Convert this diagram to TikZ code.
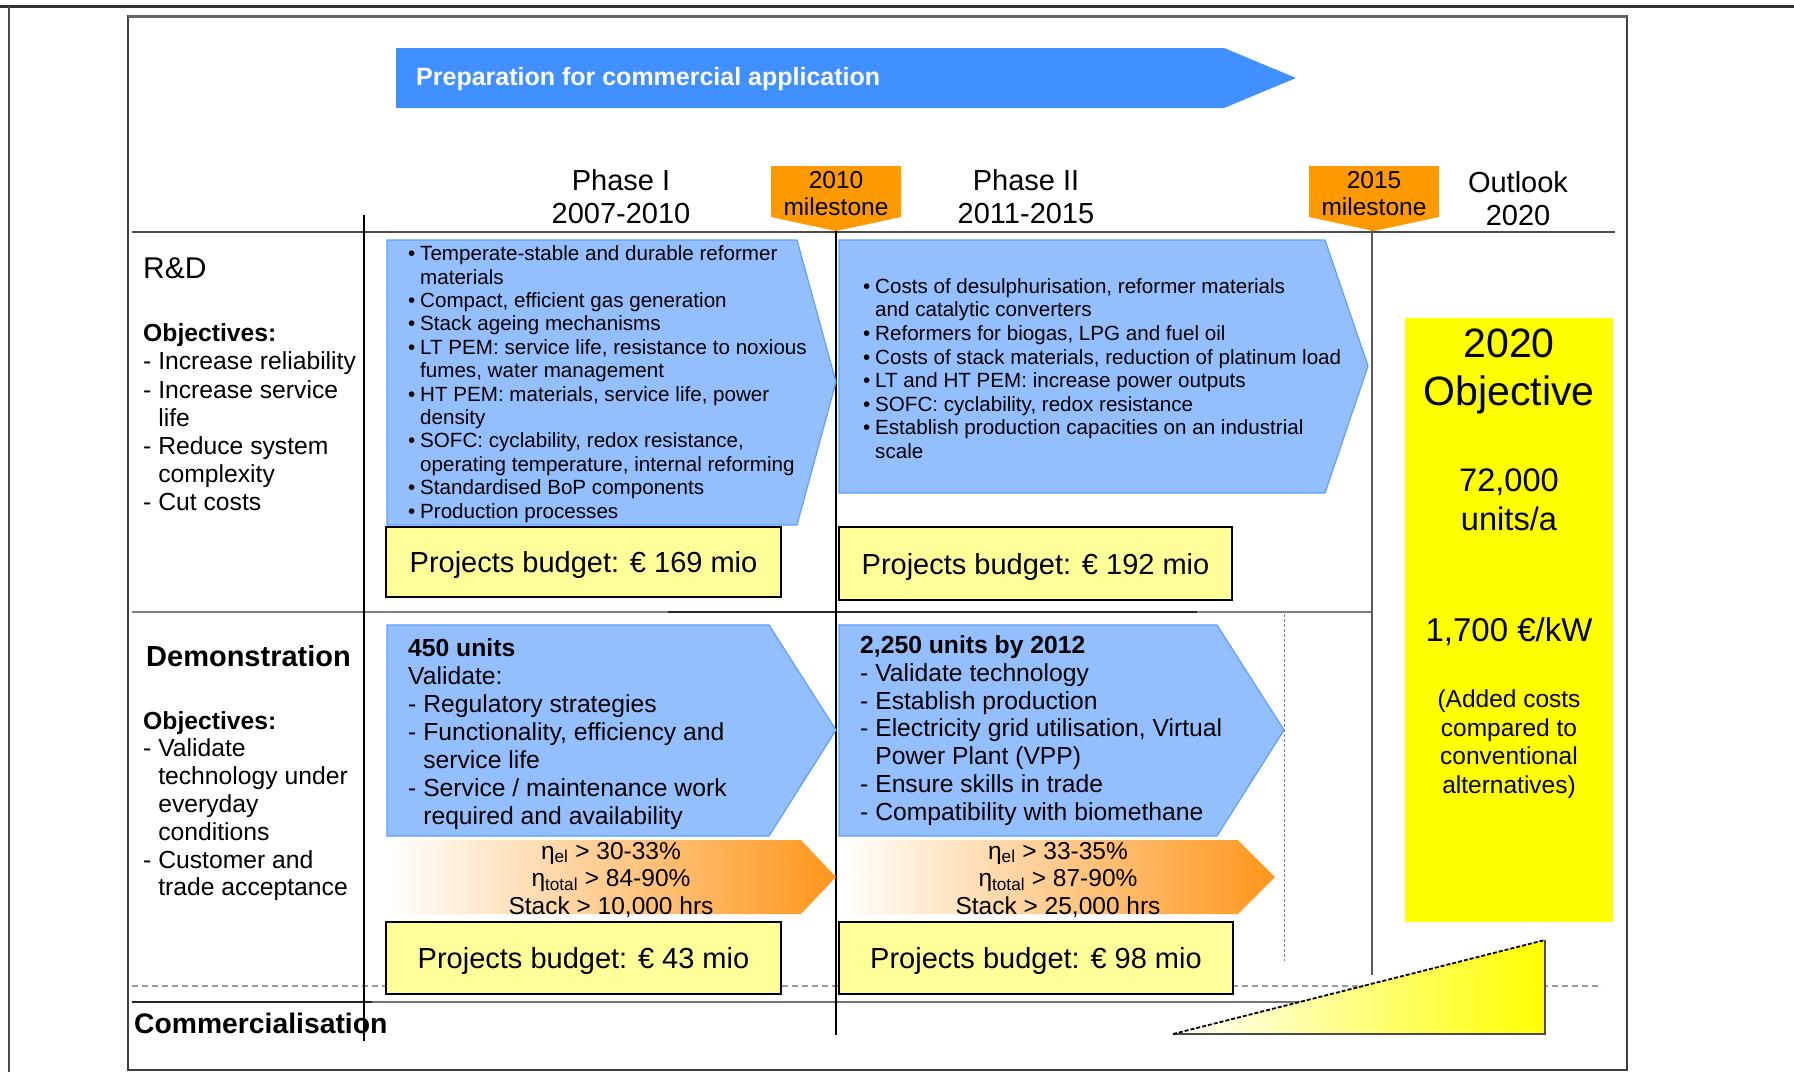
\documentclass[tikz,border=0pt]{standalone}
\usepackage{fontspec}
\setmainfont{Liberation Sans}
\definecolor{bannerblue}{HTML}{4190FF}
\definecolor{lightblue}{HTML}{94BFFF}
\definecolor{blueedge}{HTML}{5E9EFF}
\definecolor{msorange}{HTML}{FF9900}
\definecolor{gradorange}{HTML}{FF961A}
\definecolor{budgetyellow}{HTML}{FFFF99}
\definecolor{objyellow}{HTML}{FFFF00}
\newcommand\mybul{\makebox[12pt][l]{\textbullet}}
\newcommand\myind{\hspace*{12pt}}
\newcommand\mydash{\hphantom{-\ }}
\begin{document}
\begin{tikzpicture}[x=1pt,y=-1pt,
  every node/.style={inner sep=0pt},
  phasebox/.style={fill=lightblue, draw=blueedge, line width=1.2pt},
  orangebox/.style={left color=white, right color=gradorange},
  budgetbox/.style={draw=black, line width=1.8pt, fill=budgetyellow, text depth=0pt, font=\fontsize{29}{33}\selectfont},
  smalltxt/.style={anchor=west, align=left, font=\fontsize{20.6}{23.4}\selectfont},
  midtxt/.style={anchor=west, align=left, font=\fontsize{24.7}{28}\selectfont},
  headtxt/.style={align=center, font=\fontsize{29}{33}\selectfont},
  mstxt/.style={align=center, font=\fontsize{24.5}{27}\selectfont},
  efftxt/.style={align=center, font=\fontsize{24.5}{27.5}\selectfont},
  gridline/.style={line width=1.5pt}
]
\useasboundingbox (0,0) rectangle (1794,1072);
\fill[white] (0,0) rectangle (1794,1072);

% page and frame lines
\draw[line width=3pt, black!80] (0,6) -- (1794,6);
\draw[line width=2pt, black!70] (9,6) -- (9,1072);
\draw[line width=1.8pt, black!75] (128,16) rectangle (1627,1070);
\draw[line width=3pt, black!60] (128,16) -- (1627,16);
\draw[line width=2.6pt, black!70] (132,232) -- (1615,232);

% grid lines
\draw[black!40, line width=2pt, dash pattern=on 6pt off 4pt] (132,986) -- (1602,986);
\draw[black!50, line width=2.2pt] (132,612) -- (1372,612);
\draw[black!85, line width=2.2pt] (668,612) -- (1197,612);
\draw[black!55, line width=2pt] (132,1002) -- (1372,1002);
\draw[black!85, line width=2pt] (132,1002) -- (372,1002);
\draw[gridline] (364,215) -- (364,1041);
\draw[gridline] (836,229) -- (836,1035);
\draw[gridline, black!65] (1372,229) -- (1372,975);
\draw[black!50, line width=1pt, dash pattern=on 3pt off 2pt] (1284,614) -- (1284,961);

% banner
\path[fill=bannerblue] (396,48) -- (1224,48) -- (1296,78) -- (1224,108) -- (396,108) -- cycle;
\node[anchor=west, text=white, font=\fontsize{25}{28}\selectfont\bfseries] (banner) at (416,79) {Preparation for commercial application};

% milestones
\path[fill=msorange] (771,166) -- (901,166) -- (901,217) -- (836,231) -- (771,217) -- cycle;
\path[fill=msorange] (1309,166) -- (1439,166) -- (1439,217) -- (1374,231) -- (1309,217) -- cycle;
\node[mstxt] (ms1) at (836,193.5) {2010\\milestone};
\node[mstxt] (ms2) at (1374,193.5) {2015\\milestone};

% header
\node[headtxt] (ph1) at (621,196.5) {Phase I\\2007-2010};
\node[headtxt] (ph2) at (1026,196.5) {Phase II\\2011-2015};
\node[headtxt] (outl) at (1518,198.5) {Outlook\\2020};

% row labels
\node[anchor=west, font=\fontsize{30}{34}\selectfont] (rdlabel) at (143,268) {R\&D};
\node[midtxt, font=\fontsize{24.7}{28.2}\selectfont] (rdobj) at (143,417.5) {\textbf{Objectives:}\\- Increase reliability\\- Increase service\\\mydash life\\- Reduce system\\\mydash complexity\\- Cut costs};
\node[anchor=west, font=\fontsize{29}{33}\selectfont\bfseries] (demolabel) at (146,656) {Demonstration};
\node[midtxt, font=\fontsize{24.7}{27.8}\selectfont] (demoobj) at (143,806) {\textbf{Objectives:}\\- Validate\\\mydash technology under\\\mydash everyday\\\mydash conditions\\- Customer and\\\mydash trade acceptance};
\node[anchor=west, font=\fontsize{28.3}{32}\selectfont\bfseries] (comlabel) at (134,1023) {Commercialisation};

% R&D phase arrows
\path[phasebox] (387,240) -- (797,240) -- (836,382) -- (797,525) -- (387,525) -- cycle;
\path[phasebox] (839,240) -- (1325,240) -- (1368,366) -- (1325,493) -- (839,493) -- cycle;
\node[smalltxt] (rd1) at (408,384) {\mybul Temperate-stable and durable reformer\\\myind materials\\\mybul Compact, efficient gas generation\\\mybul Stack ageing mechanisms\\\mybul LT PEM: service life, resistance to noxious\\\myind fumes, water management\\\mybul HT PEM: materials, service life,  power\\\myind density\\\mybul SOFC: cyclability, redox resistance,\\\myind operating temperature, internal reforming\\\mybul Standardised BoP components\\\mybul Production processes};
\node[smalltxt, font=\fontsize{20.6}{23.57}\selectfont] (rd2) at (863,368.5) {\mybul Costs of desulphurisation, reformer materials\\\myind and catalytic converters\\\mybul Reformers for biogas, LPG and fuel oil\\\mybul Costs of stack materials, reduction of platinum load\\\mybul LT and HT PEM: increase power outputs\\\mybul SOFC: cyclability, redox resistance\\\mybul Establish production capacities on an industrial\\\myind scale};

% budgets R&D
\node[budgetbox, minimum width=395pt, minimum height=70pt] (b1) at (583.5,562) {Projects budget: € 169 mio};
\node[budgetbox, minimum width=393pt, minimum height=73pt] (b2) at (1035.5,563.5) {Projects budget: € 192 mio};

% Demonstration arrows
\path[phasebox] (387,625) -- (769,625) -- (836,730) -- (769,836) -- (387,836) -- cycle;
\path[phasebox] (839,625) -- (1217,625) -- (1284,730) -- (1217,836) -- (839,836) -- cycle;
\node[midtxt] (d1) at (408,734) {\textbf{450 units}\\Validate:\\- Regulatory strategies\\- Functionality, efficiency and\\\mydash service life\\- Service / maintenance work\\\mydash required and availability};
\node[midtxt, font=\fontsize{24.7}{27.8}\selectfont] (d2) at (860,730.5) {\textbf{2,250 units by 2012}\\- Validate technology\\- Establish production\\- Electricity grid utilisation, Virtual\\\mydash Power Plant (VPP)\\- Ensure skills in trade\\- Compatibility with biomethane};

% efficiency arrows
\shade[orangebox] (387,840) -- (801,840) -- (836,877) -- (801,914) -- (387,914) -- cycle;
\shade[orangebox] (839,840) -- (1238,840) -- (1275,877) -- (1238,914) -- (839,914) -- cycle;
\node[efftxt] (e1) at (611,879.5) {η\textsubscript{el} > 30-33\%\\η\textsubscript{total} > 84-90\%\\Stack > 10,000 hrs};
\node[efftxt] (e2) at (1058,879.5) {η\textsubscript{el} > 33-35\%\\η\textsubscript{total} > 87-90\%\\Stack > 25,000 hrs};

% budgets demonstration
\node[budgetbox, minimum width=395pt, minimum height=72pt] (b3) at (583.5,958) {Projects budget: € 43 mio};
\node[budgetbox, minimum width=394pt, minimum height=72pt] (b4) at (1036,958) {Projects budget: € 98 mio};

% 2020 objective
\node[fill=objyellow, minimum width=208pt, minimum height=604pt] (objbox) at (1509,620) {};
\node[align=center, font=\fontsize{41}{48}\selectfont] (o1) at (1509,371) {2020\\Objective};
\node[align=center, font=\fontsize{32.6}{39}\selectfont] (o2) at (1509,500) {72,000\\units/a};
\node[align=center, font=\fontsize{33}{38}\selectfont] (o3) at (1509,632) {1,700 €/kW};
\node[align=center, font=\fontsize{24.5}{28.7}\selectfont] (o4) at (1509,744) {(Added costs\\compared to\\conventional\\alternatives)};

% commercialisation wedge
\shade[left color=white, right color=objyellow] (1173,1034) -- (1545,940) -- (1545,1034) -- cycle;
\draw[black!70, line width=2pt] (1173,1034) -- (1545,1034) -- (1545,940);
\draw[black, line width=1.8pt, dash pattern=on 4pt off 2pt] (1173,1034) -- (1545,940);
\end{tikzpicture}
\end{document}
